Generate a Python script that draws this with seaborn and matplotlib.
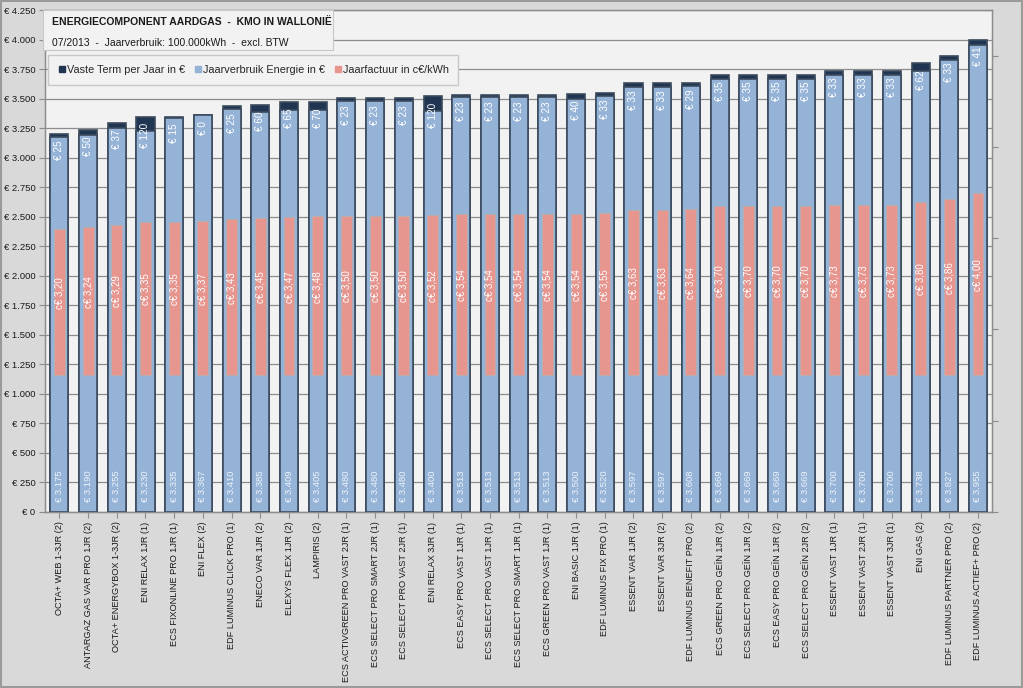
import numpy as np
import pandas as pd
import matplotlib
matplotlib.use("Agg")
import matplotlib.pyplot as plt
from matplotlib.patches import Rectangle
from matplotlib.lines import Line2D
from matplotlib.ticker import FuncFormatter, MultipleLocator
import seaborn as sns

# Data
products = [
    "OCTA+ WEB 1-3JR (2)", "ANTARGAZ GAS VAR PRO 1JR (2)", "OCTA+ ENERGYBOX 1-3JR (2)",
    "ENI RELAX 1JR (1)", "ECS FIXONLINE PRO 1JR (1)", "ENI FLEX (2)",
    "EDF LUMINUS CLICK PRO (1)", "ENECO VAR 1JR (2)", "ELEXYS FLEX 1JR (2)",
    "LAMPIRIS (2)", "ECS ACTIVGREEN PRO VAST 2JR (1)", "ECS SELECT PRO SMART 2JR (1)",
    "ECS SELECT PRO VAST 2JR (1)", "ENI RELAX 3JR (1)", "ECS EASY PRO VAST 1JR (1)",
    "ECS SELECT PRO VAST 1JR (1)", "ECS SELECT PRO SMART 1JR (1)", "ECS GREEN PRO VAST 1JR (1)",
    "ENI BASIC 1JR (1)", "EDF LUMINUS FIX PRO (1)", "ESSENT VAR 1JR (2)",
    "ESSENT VAR 3JR (2)", "EDF LUMINUS BENEFIT PRO (2)", "ECS GREEN PRO GEÏN 1JR (2)",
    "ECS SELECT PRO GEÏN 1JR (2)", "ECS EASY PRO GEÏN 1JR (2)", "ECS SELECT PRO GEÏN 2JR (2)",
    "ESSENT VAST 1JR (1)", "ESSENT VAST 2JR (1)", "ESSENT VAST 3JR (1)",
    "ENI GAS (2)", "EDF LUMINUS PARTNER PRO (2)", "EDF LUMINUS ACTIEF+ PRO (2)",
]
energie = [3175, 3190, 3255, 3230, 3335, 3367, 3410, 3385, 3409, 3405, 3480, 3480,
           3480, 3400, 3513, 3513, 3513, 3513, 3500, 3520, 3597, 3597, 3608, 3669,
           3669, 3669, 3669, 3700, 3700, 3700, 3738, 3827, 3955]
vaste_term = [25, 50, 37, 120, 15, 0, 25, 60, 65, 70, 23, 23,
              23, 120, 23, 23, 23, 23, 40, 33, 33, 33, 29, 35,
              35, 35, 35, 33, 33, 33, 62, 33, 41]
factuur_ct = [3.20, 3.24, 3.29, 3.35, 3.35, 3.37, 3.43, 3.45, 3.47, 3.48, 3.50, 3.50,
              3.50, 3.52, 3.54, 3.54, 3.54, 3.54, 3.54, 3.55, 3.63, 3.63, 3.64, 3.70,
              3.70, 3.70, 3.70, 3.73, 3.73, 3.73, 3.80, 3.86, 4.00]

C_VAST = "#1f3552"
C_ENERGIE = "#95b3d7"
C_FACTUUR = "#e6958f"
C_EDGE = "#3c4b5e"

df = pd.DataFrame({"product": products, "energie": energie,
                   "vaste": vaste_term, "factuur": factuur_ct})
df["totaal"] = df["energie"] + df["vaste"]


def euro(v):
    return "€ " + f"{int(round(v)):,}".replace(",", ".")


sns.set_style("white", {"axes.facecolor": "#f2f2f2"})
plt.rcParams["font.family"] = ["Liberation Sans", "DejaVu Sans"]

fig = plt.figure(figsize=(10.23, 6.88), dpi=100, facecolor="#d9d9d9")
ax = fig.add_axes([0.044, 0.256, 0.926, 0.729])
ax.set_facecolor("#f2f2f2")

# stacked: total (dark cap) first, then energy on top of it
sns.barplot(data=df, x="product", y="totaal", order=products, color=C_VAST,
            saturation=1, width=0.63, edgecolor=C_EDGE, linewidth=1.2, ax=ax, zorder=2)
sns.barplot(data=df, x="product", y="energie", order=products, color=C_ENERGIE,
            saturation=1, width=0.63, edgecolor=C_EDGE, linewidth=1.2, ax=ax, zorder=3)

ax.set_ylim(0, 4250)
ax.set_xlim(-0.5, len(products) - 0.5)
ax.yaxis.set_major_locator(MultipleLocator(250))
ax.yaxis.set_major_formatter(FuncFormatter(lambda v, p: euro(v)))
ax.yaxis.grid(True, color="#8c8c8c", linewidth=0.9, zorder=0)
ax.set_axisbelow(True)
ax.set_xlabel("")
ax.set_ylabel("")
ax.tick_params(axis="y", labelsize=6.8, labelcolor="#1a1a1a", length=4, color="#8c8c8c",
               left=True, direction="out", pad=3)
ax.tick_params(axis="x", labelsize=6.6, labelcolor="#1a1a1a", length=4, color="#8c8c8c",
               bottom=True, direction="out", pad=3)
ax.set_xticks(range(len(products)))
ax.set_xticklabels(products, rotation=90)
for s in ax.spines.values():
    s.set_color("#8c8c8c")
    s.set_linewidth(1)

for i, row in df.iterrows():
    ax.text(i, 80, euro(row["energie"]), rotation=90, ha="center", va="bottom",
            fontsize=6.8, color="#eef3fa", zorder=6)
    ax.text(i, row["totaal"] - 55, euro(row["vaste"]), rotation=90, ha="center", va="top",
            fontsize=7.2, color="white", zorder=6)

# secondary axis: yearly bill in c€/kWh
ax2 = ax.twinx()
sns.barplot(data=df, x="product", y="factuur", order=products, color=C_FACTUUR,
            saturation=1, width=0.38, edgecolor="#b9b0b0", linewidth=0.6, ax=ax2, zorder=2)
ax2.set_ylim(-3, 8)
ax2.set_xlim(-0.5, len(products) - 0.5)
ax2.set_yticks([-3, -1, 1, 3, 5, 7])
ax2.set_yticklabels([])
ax2.set_ylabel("")
ax2.tick_params(axis="y", length=4, color="#8c8c8c", right=True, direction="out")
for s in ax2.spines.values():
    s.set_color("#8c8c8c")
for i, v in enumerate(factuur_ct):
    ax2.text(i, v / 2 + 0.2, "c€ " + f"{v:.2f}".replace(".", ","), rotation=90,
             ha="center", va="center", fontsize=7, color="white", zorder=6)

# title box
fig.patches.append(Rectangle((0.042, 0.927), 0.284, 0.058, transform=fig.transFigure,
                             facecolor="#f2f2f2", edgecolor="#c8c8c8", linewidth=0.8))
fig.text(0.051, 0.968, "ENERGIECOMPONENT AARDGAS  -  KMO IN WALLONIË", fontsize=7.5,
         fontweight="bold", color="#1a1a1a", va="center", ha="left")
fig.text(0.051, 0.937, "07/2013  -  Jaarverbruik: 100.000kWh  -  excl. BTW", fontsize=7.5,
         color="#1a1a1a", va="center", ha="left")

handles = [
    Line2D([], [], marker="s", linestyle="none", markersize=5, color=C_VAST),
    Line2D([], [], marker="s", linestyle="none", markersize=5, color=C_ENERGIE),
    Line2D([], [], marker="s", linestyle="none", markersize=5, color=C_FACTUUR),
]
fig.legend(handles, ["Vaste Term per Jaar in €", "Jaarverbruik Energie in €",
                     "Jaarfactuur in c€/kWh"],
           loc="upper left", bbox_to_anchor=(0.047, 0.92), ncol=3, fontsize=7.8,
           frameon=True, fancybox=False, facecolor="#f2f2f2", edgecolor="#c8c8c8",
           framealpha=1, handletextpad=0.05, columnspacing=0.8, handlelength=0.8,
           borderpad=0.9, borderaxespad=0)

fig.patches.append(Rectangle((0.001, 0.001), 0.998, 0.998, transform=fig.transFigure,
                             facecolor="none", edgecolor="#9a9a9a", linewidth=1.5))

fig.savefig("out.png", dpi=100, facecolor=fig.get_facecolor())
